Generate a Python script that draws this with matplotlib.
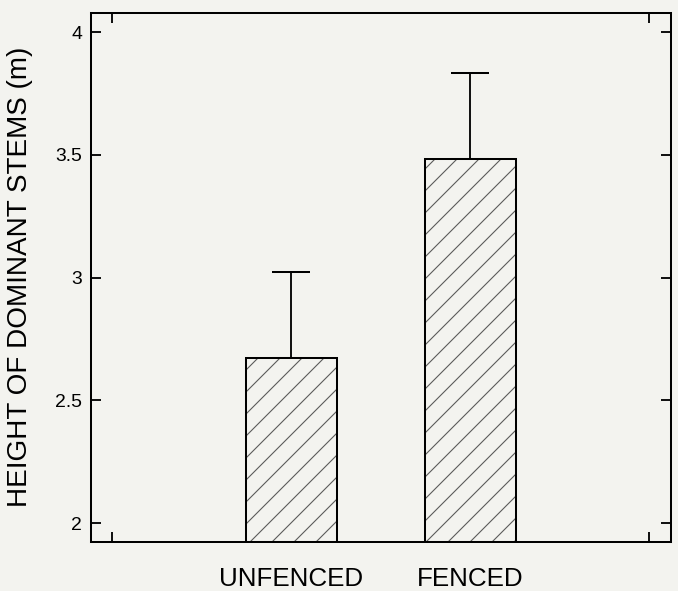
import matplotlib
matplotlib.use("Agg")
import matplotlib.pyplot as plt
from matplotlib.ticker import FixedLocator

categories = ["UNFENCED", "FENCED"]
heights = [2.673, 3.484]
errors_upper = [0.351, 0.350]
y_ticks = [2, 2.5, 3, 3.5, 4]
y_tick_labels = ["2", "2.5", "3", "3.5", "4"]
y_label = "HEIGHT OF DOMINANT STEMS (m)"

plt.rcParams['font.family'] = ['Liberation Sans', 'DejaVu Sans']
plt.rcParams['hatch.linewidth'] = 0.6
bg = '#f3f3ef'

DPI = 132
fig = plt.figure(figsize=(678 / DPI, 591 / DPI), dpi=DPI, facecolor=bg)
ax = fig.add_axes([0.1342, 0.0829, 0.9892 - 0.1342, 0.9788 - 0.0829])
ax.set_facecolor(bg)

ymin, ymax = 1.9226, 4.0794
x = [1, 2]
bar_h = [h - ymin for h in heights]
# hatch layer (grey lines)
ax.bar(x, bar_h, bottom=ymin, width=0.507, facecolor=bg, edgecolor='#5a5a5a',
       linewidth=0, hatch='//', zorder=2)
# outline layer
ax.bar(x, bar_h, bottom=ymin, width=0.507, fill=False, edgecolor='black',
       linewidth=1.1, zorder=3)
ax.errorbar(x, heights, yerr=[[0, 0], errors_upper], fmt='none', ecolor='black',
            elinewidth=1.0, capsize=10.1, capthick=1.1, zorder=1)

ax.set_xlim(-0.12, 3.12)
ax.set_ylim(ymin, ymax)

ax.set_yticks(y_ticks)
ax.set_yticklabels(y_tick_labels, fontsize=10.6)
ax.tick_params(axis='y', which='major', direction='in', length=5.5, width=1.0,
               left=True, right=True, pad=4.9)

ax.set_xticks(x)
ax.set_xticklabels(categories, fontsize=14.2)
ax.tick_params(axis='x', which='major', length=0, pad=13.5)
ax.xaxis.set_minor_locator(FixedLocator([0, 3]))
ax.tick_params(axis='x', which='minor', direction='in', length=5.5, width=1.0,
               bottom=True, top=True)

for s in ax.spines.values():
    s.set_linewidth(1.1)
    s.set_zorder(4)

ax.set_ylabel(y_label, fontsize=15.2, labelpad=12)

fig.savefig('out.png', dpi=DPI, facecolor=bg)
